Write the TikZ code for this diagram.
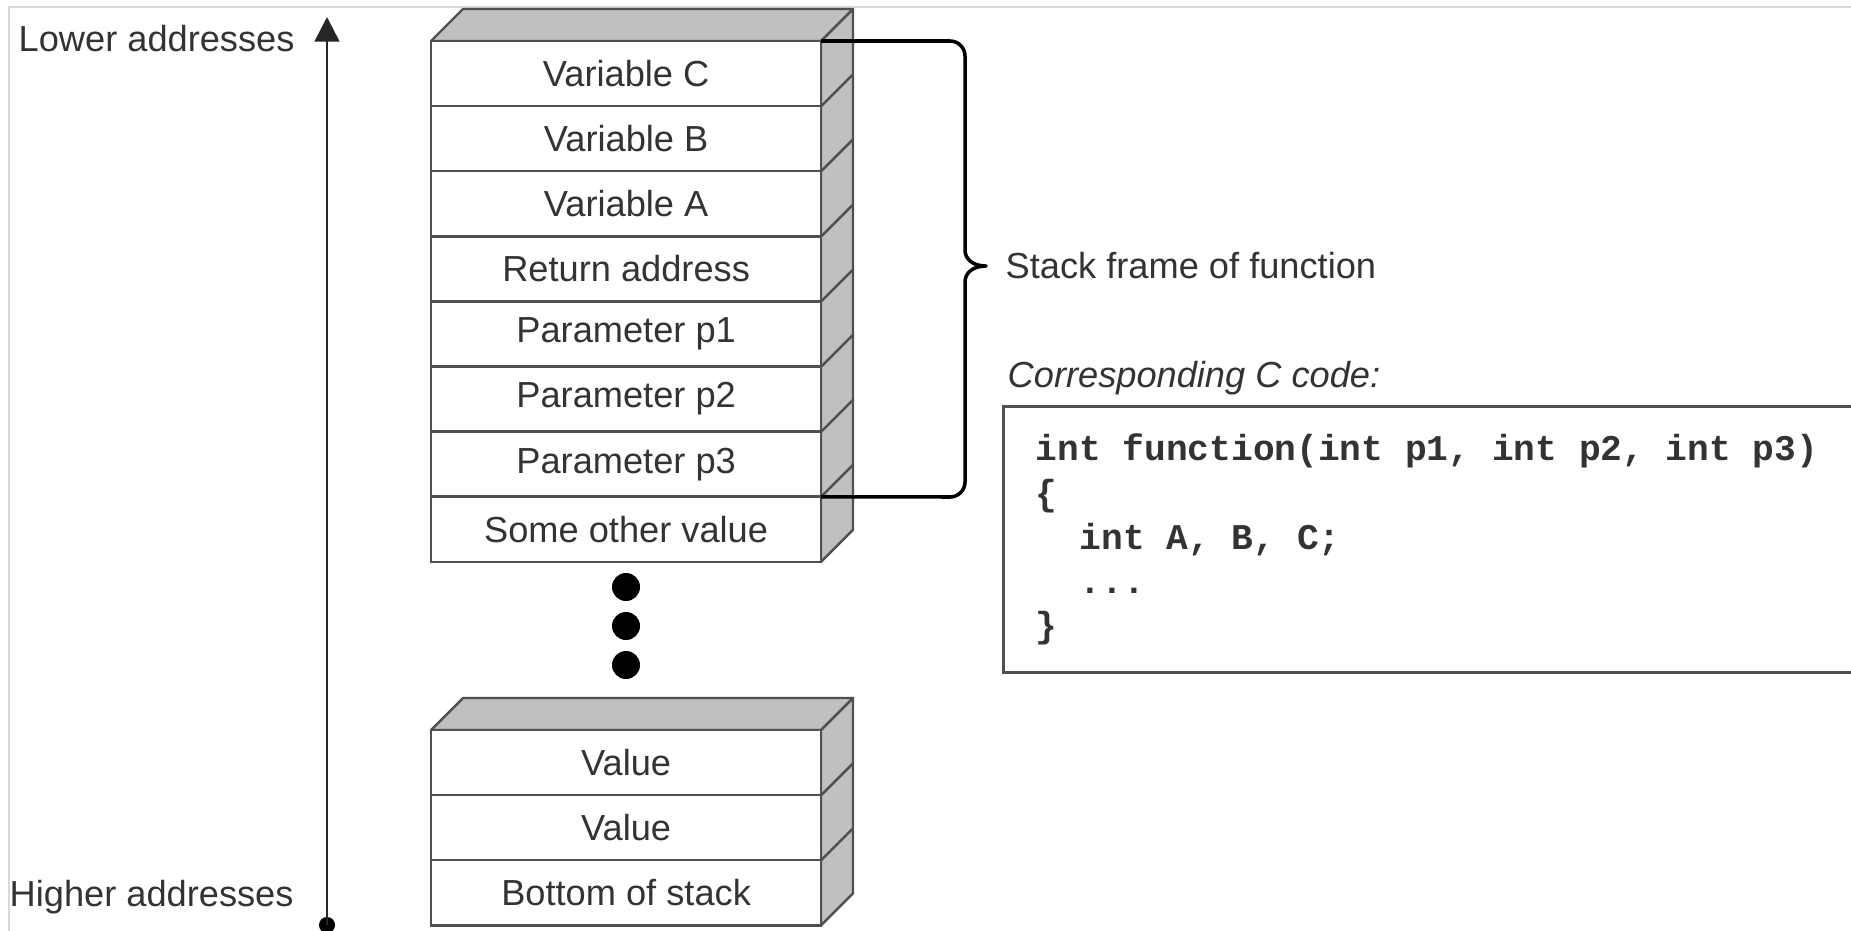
\documentclass[tikz,border=0pt]{standalone}
\usepackage{fontspec}
\setmainfont{Liberation Sans}
\setmonofont{Liberation Mono}
\usetikzlibrary{arrows.meta}
\definecolor{edgec}{HTML}{505050}
\definecolor{facec}{HTML}{C0C0C0}
\definecolor{textc}{HTML}{333333}
\definecolor{framec}{HTML}{D8D8D8}
\newcommand{\lblsize}{\fontsize{10.3pt}{12pt}\selectfont}
\begin{document}
\begin{tikzpicture}[x=0.01cm,y=-0.01cm,
  cell/.style={draw=edgec, line width=0.7pt, fill=white, minimum width=3.9cm, minimum height=0.651cm, inner sep=0pt, outer sep=0pt, anchor=north west, font=\lblsize, text=textc},
  face/.style={draw=edgec, line width=0.7pt, fill=facec, line join=round},
  edgeline/.style={draw=edgec, line width=0.7pt},
  lbl/.style={font=\lblsize, text=textc, inner sep=0pt, anchor=west},
  codeline/.style={font=\lblsize\ttfamily\bfseries, text=textc, inner sep=0pt, anchor=base west},
  bigdot/.style={circle, fill=black, inner sep=0pt, minimum size=0.28cm},
  bracestyle/.style={draw=black, line width=1pt, line join=round},
  codebox/.style={draw=edgec, line width=0.8pt, anchor=north west, minimum width=9.5cm, minimum height=2.66cm, inner sep=0pt},
]
\useasboundingbox (0,0) rectangle (1851,930);
\clip (0,0) rectangle (1851,930);
% outer frame
\draw[framec, line width=0.5pt] (9,960) -- (9,7) -- (1900,7);

% ---------- upper stack ----------
\filldraw[face] (431,41) -- (463,9) -- (853,9) -- (821,41) -- cycle;
\filldraw[face] (821,41) -- (853,9) -- (853,529.8) -- (821,561.8) -- cycle;
\node[cell] (r1) at (431,41) {Variable C};
\node[cell] (r2) at (431,106.1) {Variable B};
\node[cell] (r3) at (431,171.2) {Variable A};
\node[cell] (r4) at (431,236.3) {Return address};
\node[cell] (r5) at (431,301.4) {Parameter p1};
\node[cell] (r6) at (431,366.5) {Parameter p2};
\node[cell] (r7) at (431,431.6) {Parameter p3};
\node[cell] (r8) at (431,496.7) {Some other value};
\foreach \i in {1,...,7} \draw[edgeline] (r\i.south east) -- ++(32,-32);

% dots
\node[bigdot] (d1) at (626,587) {};
\node[bigdot] (d2) at (626,626) {};
\node[bigdot] (d3) at (626,665) {};

% ---------- lower stack ----------
\filldraw[face] (431,730) -- (463,698) -- (853,698) -- (821,730) -- cycle;
\filldraw[face] (821,730) -- (853,698) -- (853,893.3) -- (821,925.3) -- cycle;
\node[cell] (v1) at (431,730) {Value};
\node[cell] (v2) at (431,795.1) {Value};
\node[cell] (v3) at (431,860.2) {Bottom of stack};
\foreach \i in {1,2} \draw[edgeline] (v\i.south east) -- ++(32,-32);

% ---------- address axis ----------
\node[lbl] (lo) at (18,39) {Lower addresses};
\node[lbl] (hi) at (9,897) {Higher addresses};
\node[circle, fill=black, inner sep=0pt, minimum size=0.16cm] (adot) at (327,925) {};
\coordinate (atop) at (327,17);
\draw[draw=black!85, line width=0.8pt, -{Triangle[length=7pt,width=7pt]}] (adot.center) -- (atop);

% ---------- brace ----------
\node[lbl] (sf) at (1005,266) {Stack frame of function};
\draw[bracestyle] (r1.north east) -- (950,41)
  .. controls (958.3,41) and (965,47.7) .. (965,56)
  -- (965,250)
  .. controls (965,260) and (974,266) .. (986,266)
  .. controls (974,266) and (965,272) .. (965,282)
  -- (965,482)
  .. controls (965,490.3) and (958.3,497) .. (950,497)
  -- (r7.south east);

% ---------- code ----------
\node[lbl, font=\lblsize\itshape] (cc) at (1007,378) {Corresponding C code:};
\node[codebox] (cb) at (1002,405) {};
\node[codeline] (c1) at (1035,460) {int function(int p1, int p2, int p3)};
\node[codeline] (c2) at (1035,505) {\{};
\node[codeline] (c3) at (1079,549) {int A, B, C;};
\node[codeline] (c4) at (1079,593) {...};
\node[codeline] (c5) at (1035,637) {\}};
\end{tikzpicture}
\end{document}
